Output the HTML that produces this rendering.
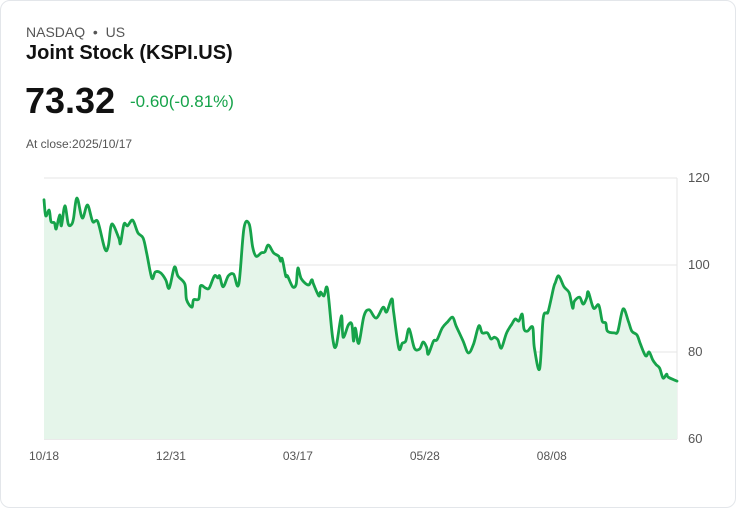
<!DOCTYPE html>
<html><head><meta charset="utf-8"><style>
body{margin:0;background:#fff;font-family:"Liberation Sans",sans-serif;}
.card{position:absolute;left:0;top:0;width:734px;height:506px;border:1px solid #e3e6ea;border-radius:10px;background:#fff;}
.t{position:absolute;white-space:nowrap;}
</style></head><body>
<div class="card">
<div class="t" style="left:25px;top:23px;font-size:14px;color:#555;">NASDAQ &nbsp;•&nbsp; US</div>
<div class="t" style="left:25px;top:41px;font-size:20px;font-weight:bold;color:#111;">Joint Stock (KSPI.US)</div>
<div class="t" style="left:24px;top:79px;font-size:36px;font-weight:bold;color:#111;">73.32</div>
<div class="t" style="left:129px;top:91px;font-size:17px;color:#16a34a;">-0.60(-0.81%)</div>
<div class="t" style="left:25px;top:136px;font-size:12px;color:#555;">At close:2025/10/17</div>
<svg id="chart" width="736" height="508" style="position:absolute;left:-1px;top:-1px"></svg>
</div>
<script>
const days=[0,1,3,4,6,7,9,10,12,14,16,17,19,22,25,28,31,35,37,39,43,44,46,48,51,54,57,59,62,64,67,70,72,75,77,81,82,85,86,89,90,93,95,98,100,101,103,106,109,112,115,118,120,122,125,127,129,132,135,136,137,139,140,143,145,146,148,152,154,155,158,159,161,163,166,168,171,172,175,177,178,179,181,184,187,191,195,197,200,201,204,206,208,210,213,216,218,220,221,224,226,229,232,235,237,241,244,247,250,252,255,257,259,261,263,266,269,271,273,275,276,278,281,282,285,287,289,290,293,294,296,299,302,304,305,308,310,312,313,316,319,321,323,324,328,330,333,336,338,341,343,346,348,350,352,354,356,358,359,364];
const prices=[115,111.3,112.6,110,109.7,108.3,111.5,109,113.6,109.4,109.4,110.8,115.4,110.8,113.8,110,109.9,103.7,104.4,109.4,106.2,105,109.4,109,110.3,107.4,106.2,102.8,97,98.4,98.2,96.6,94.7,99.5,97.5,95.6,92,90.3,92,92.2,95.2,94.7,94.7,97.5,97,97.5,95,97.5,97.9,95.6,108.5,109.4,104.1,102,102.8,103,104.6,102.8,102,100.9,101.4,97.5,97.5,95,95.6,99.3,96.8,95.4,96.6,95.6,92.9,93.8,92.9,94.5,83.2,81.4,88.3,83.4,86.2,86.4,82.5,85.5,82,88.3,89.7,87.8,90.3,89.2,92.2,89.4,80.9,82,82.5,85.3,80.9,80.7,82.3,81.1,79.5,82.5,82.8,85.5,86.9,88,86,82.5,79.8,81.8,86,84.4,84.4,83,83.4,82.8,80.9,84.4,86.4,87.6,87.1,88.7,85.3,84.8,85.7,80.9,76.1,87.6,89,89.4,94.7,95.9,97.5,95,93.6,90.1,91.7,92.6,91,92.4,93.8,90.1,90.8,87.1,86.7,84.8,84.4,84.8,89.9,87.1,84.8,83.9,81.8,79.1,80,78.2,77.1,76.3,74,74.9,74.2,73.32];
const yTicks=[60,80,100,120];
const xTickDays=[0,73,146,219,292];
const xTickLabels=["10/18","12/31","03/17","05/28","08/08"];
const NS="http://www.w3.org/2000/svg";
const svg=document.getElementById('chart');
const x0=44,x1=677,y0=439,y1=178;
const xs=d=>x0+(d-0)/(364-0)*(x1-x0);
const ys=v=>y0-(v-60)/(120-60)*(y0-y1);
function mk(tag,attrs){const e=document.createElementNS(NS,tag);for(const k in attrs)e.setAttribute(k,attrs[k]);svg.appendChild(e);return e;}
yTicks.forEach(v=>{
 const g=mk('line',{x1:x0,x2:x1,y1:ys(v),y2:ys(v),stroke:v===60?'#d4d4d4':'#e6e6e6','stroke-width':1});
 
 
 const t=mk('text',{x:x1+11,y:ys(v)+4,'font-size':13,fill:'#555','font-family':'Liberation Sans, sans-serif'});
 t.textContent=v;
 
 
});
const vl=mk('line',{x1:x1,x2:x1,y1:y1,y2:y0,stroke:'#e6e6e6','stroke-width':1});


xTickDays.forEach((d,i)=>{
 const t=mk('text',{x:xs(d),y:460,'font-size':12,fill:'#555','text-anchor':'middle','font-family':'Liberation Sans, sans-serif'});
 t.textContent=xTickLabels[i];
 
 
});
const pts=days.map((dd,i)=>[xs(dd),ys(prices[i])]);
let d='M'+pts[0][0].toFixed(1)+','+pts[0][1].toFixed(1);
for(let i=0;i<pts.length-1;i++){
 const p0=pts[Math.max(0,i-1)],p1=pts[i],p2=pts[i+1],p3=pts[Math.min(pts.length-1,i+2)];
 const c1=[p1[0]+(p2[0]-p0[0])/6,p1[1]+(p2[1]-p0[1])/6];
 const c2=[p2[0]-(p3[0]-p1[0])/6,p2[1]-(p3[1]-p1[1])/6];
 d+='C'+c1[0].toFixed(1)+','+c1[1].toFixed(1)+' '+c2[0].toFixed(1)+','+c2[1].toFixed(1)+' '+p2[0].toFixed(1)+','+p2[1].toFixed(1);
}
const area=mk('path',{d:d+'L'+xs(days[days.length-1])+','+y0+'L'+xs(days[0])+','+y0+'Z',fill:'#e5f5ea'});


const line=mk('path',{d:d,fill:'none',stroke:'#16a34a','stroke-width':2.8,'stroke-linejoin':'round','stroke-linecap':'round'});


</script>
</body></html>
